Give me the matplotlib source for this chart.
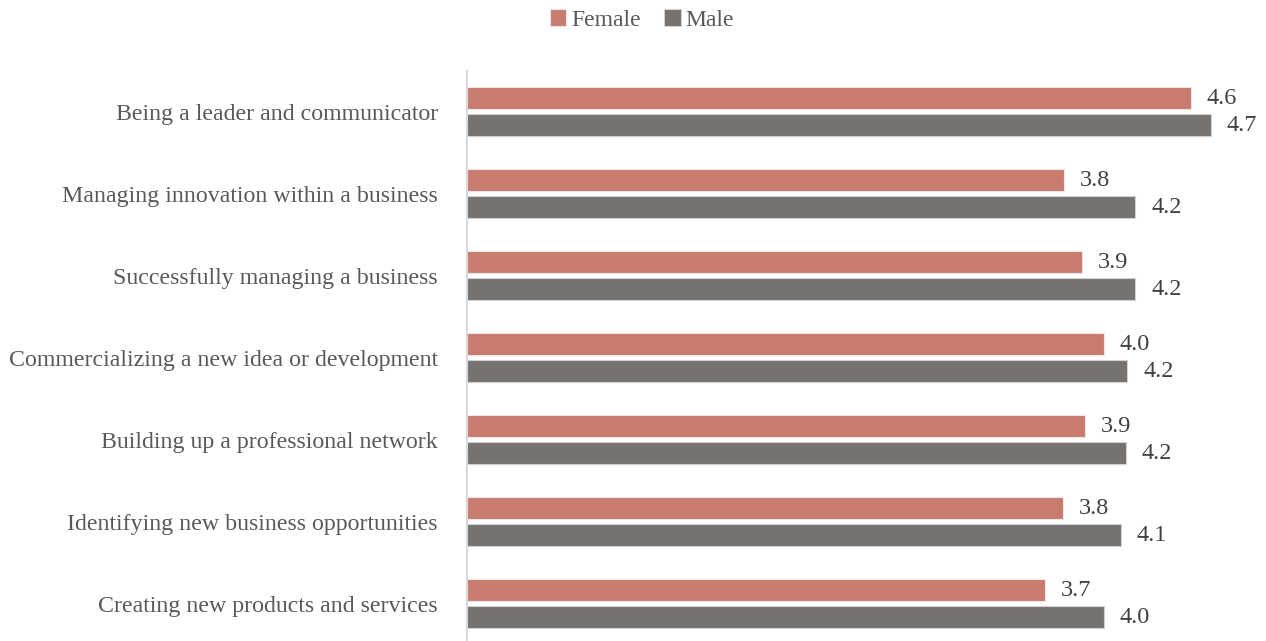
import matplotlib.pyplot as plt
import numpy as np

categories = [
    "Being a leader and communicator",
    "Managing innovation within a business",
    "Successfully managing a business",
    "Commercializing a new idea or development",
    "Building up a professional network",
    "Identifying new business opportunities",
    "Creating new products and services",
]
female = [4.58, 3.78, 3.89, 4.03, 3.91, 3.77, 3.66]
male = [4.71, 4.23, 4.23, 4.18, 4.17, 4.14, 4.03]

female_color = "#C97B6E"
male_color = "#767270"
text_color = "#595959"
value_color = "#404040"

plt.rcParams['font.family'] = ['Liberation Serif', 'DejaVu Serif']

fig = plt.figure(figsize=(12.66, 6.41), dpi=100)
ax = fig.add_axes([467 / 1266, 0, 790 / 1266, 570 / 641])

y = np.arange(len(categories))[::-1]
h = 22 / 82
off = 13.5 / 82
bf = ax.barh(y + off, female, height=h, color=female_color, edgecolor="#e8e8e8",
             linewidth=0.8, label="Female")
bm = ax.barh(y - off, male, height=h, color=male_color, edgecolor="#d0d0d0",
             linewidth=0.8, label="Male")

for bars, vals in ((bf, female), (bm, male)):
    for b, v in zip(bars, vals):
        ax.text(v + 0.1, b.get_y() + b.get_height() / 2, f"{v:.1f}",
                va="center", ha="left", fontsize=17.5, color=value_color)

ax.set_xlim(0, 5)
ax.set_ylim(-0.457, 6.494)
ax.set_yticks(y)
ax.set_yticklabels(categories, fontsize=17.2, color=text_color)
ax.tick_params(axis="y", length=0, pad=21)
ax.set_xticks([])
for s in ("top", "right", "bottom"):
    ax.spines[s].set_visible(False)
ax.spines["left"].set_color("#d9d9d9")
ax.spines["left"].set_linewidth(1.5)

fig.legend(handles=[bf, bm], labels=["Female", "Male"], loc="center",
           bbox_to_anchor=(642 / 1266, 1 - 20 / 641), ncol=2, frameon=False,
           fontsize=17, handlelength=0.7, handleheight=0.7, handletextpad=0.2,
           columnspacing=1.0, labelcolor=text_color)

fig.savefig("out.png", dpi=100)
